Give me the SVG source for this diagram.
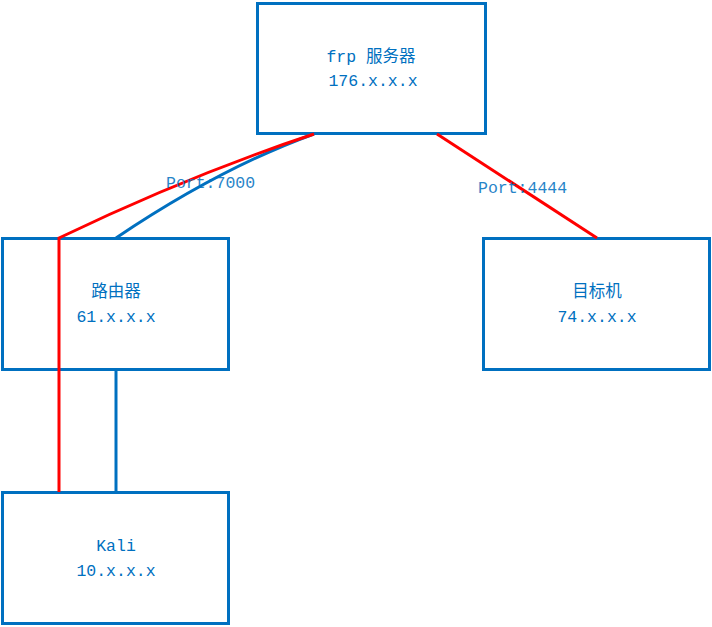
<svg xmlns="http://www.w3.org/2000/svg" width="712" height="627" viewBox="0 0 712 627">
  <style>
    .box { fill: #ffffff; stroke: #0070c0; stroke-width: 3; }
    .lbl { font-family: "Liberation Mono", "Noto Sans CJK SC", monospace; font-size: 16.5px; fill: #0070c0; text-anchor: middle; }
    .port { font-family: "Liberation Mono", monospace; font-size: 16.5px; fill: #0070c0; opacity: 0.85; }
    .red { fill: none; stroke: #ff0000; stroke-width: 3; }
    .blue { fill: none; stroke: #0070c0; stroke-width: 3; }
  </style>

  <g id="frp-server">
    <rect class="box" x="257.5" y="3.5" width="228" height="130"/>
    <text class="lbl" x="371" y="62">frp 服务器</text>
    <text class="lbl" x="373" y="86">176.x.x.x</text>
  </g>

  <g id="router">
    <rect class="box" x="2.5" y="238.5" width="226" height="131"/>
    <text class="lbl" x="116" y="297">路由器</text>
    <text class="lbl" x="116" y="322">61.x.x.x</text>
  </g>

  <g id="target">
    <rect class="box" x="483.5" y="238.5" width="226" height="131"/>
    <text class="lbl" x="597" y="297">目标机</text>
    <text class="lbl" x="597" y="322">74.x.x.x</text>
  </g>

  <g id="kali">
    <rect class="box" x="2.5" y="492.5" width="226" height="131"/>
    <text class="lbl" x="116" y="551">Kali</text>
    <text class="lbl" x="116" y="576">10.x.x.x</text>
  </g>

  <g id="connectors">
    <path class="blue" d="M314,134 Q220,168 116,238"/>
    <path class="blue" d="M116,370 L116,492"/>
    <path class="red" d="M314,134 Q190,175 59,238 L59,492"/>
    <path class="red" d="M437,134 L597,238"/>
    <text class="port" x="166" y="188">Port:7000</text>
    <text class="port" x="478" y="193">Port:4444</text>
  </g>
</svg>
